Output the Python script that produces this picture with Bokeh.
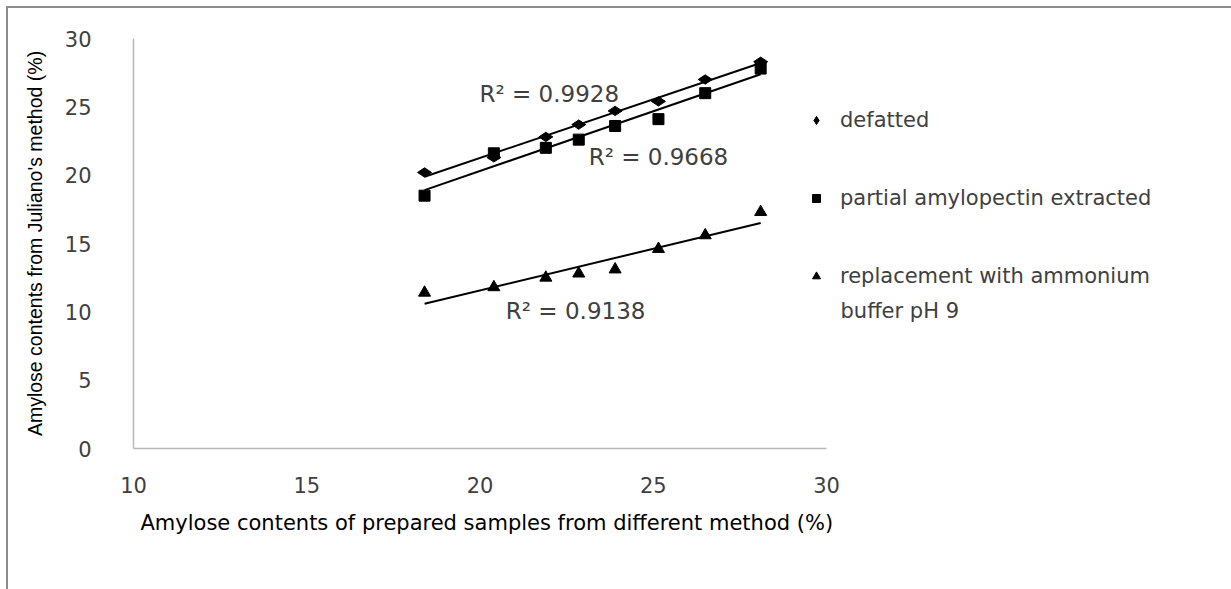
import numpy as np
from bokeh.plotting import figure
from bokeh.models import Range1d, FixedTicker, Legend, LegendItem, Label, Title
from bokeh.embed import file_html
from bokeh.resources import INLINE

# ---- data ----
x_method = [18.4, 20.4, 21.9, 22.85, 23.9, 25.15, 26.5, 28.1]
defatted = [20.2, 21.3, 22.8, 23.7, 24.7, 25.4, 27.0, 28.3]
partial = [18.5, 21.6, 22.0, 22.6, 23.6, 24.1, 26.0, 27.8]
ammonium = [11.4, 11.8, 12.5, 12.8, 13.1, 14.6, 15.6, 17.3]
series_names = ["defatted", "partial amylopectin extracted",
                "replacement with ammonium", "buffer pH 9"]
r2_texts = ["R\u00b2 = 0.9928", "R\u00b2 = 0.9668", "R\u00b2 = 0.9138"]
x_ticks = [10, 15, 20, 25, 30]
y_ticks = [0, 5, 10, 15, 20, 25, 30]

TXT = "#404040"
FONT = "DejaVu Sans"

FRAME_W = 1098           # frame runs to the right edge so the legend is not clipped
AX_W = 693               # pixel length of the 10..30 x axis
x_end = 10 + 20 * FRAME_W / AX_W

p = figure(frame_width=FRAME_W, frame_height=410,
           min_border_left=125, min_border_top=30,
           min_border_right=0, min_border_bottom=141,
           x_range=Range1d(10, x_end), y_range=Range1d(0, 30),
           output_backend="svg", toolbar_location=None)
p.styles = {"margin-left": "6px", "margin-top": "6px",
            "border-top": "2px solid #8c8c8c", "border-left": "2px solid #8c8c8c"}
p.outline_line_color = None
p.xgrid.visible = False
p.ygrid.visible = False

for ax in (p.xaxis[0], p.yaxis[0]):
    ax.axis_line_color = "#b8b8b8"
    ax.axis_line_width = 1.5
    ax.major_tick_line_color = None
    ax.minor_tick_line_color = None
    ax.major_tick_out = 0
    ax.major_tick_in = 0
    ax.minor_tick_out = 0
    ax.major_label_text_font = FONT
    ax.major_label_text_font_size = "21px"
    ax.major_label_text_color = TXT

p.xaxis.ticker = FixedTicker(ticks=x_ticks)
p.yaxis.ticker = FixedTicker(ticks=y_ticks)
p.xaxis.bounds = (10, 30)
p.xaxis.major_label_standoff = 28
p.yaxis.major_label_standoff = 42

p.yaxis.axis_label = "Amylose contents from Juliano's method (%)"
p.yaxis.axis_label_text_font = "Liberation Sans"
p.yaxis.axis_label_text_font_size = "19.5px"
p.yaxis.axis_label_text_font_style = "normal"
p.yaxis.axis_label_text_color = "black"
p.yaxis.axis_label_standoff = 16

xt = Title(text="Amylose contents of prepared samples from different method (%)",
           align="left", offset=7, standoff=27, text_font=FONT, text_font_size="21px",
           text_font_style="normal", text_color="black")
p.add_layout(xt, "below")

# trendlines (least squares fits)
for ys in (defatted, partial, ammonium):
    m, b = np.polyfit(x_method, ys, 1)
    xe = [min(x_method), max(x_method)]
    p.line(xe, [m * v + b for v in xe], line_color="black", line_width=2)

r1 = p.scatter(x_method, defatted, marker="diamond", size=14, angle=np.pi / 2,
               fill_color="black", line_color="black")
r2 = p.scatter(x_method, partial, marker="square", size=11,
               fill_color="black", line_color="black")
r3 = p.scatter(x_method, ammonium, marker="triangle", size=12,
               fill_color="black", line_color="black")

legend = Legend(items=[LegendItem(label=series_names[0], renderers=[r1]),
                       LegendItem(label=series_names[1], renderers=[r2]),
                       LegendItem(label=series_names[2], renderers=[r3])],
                location=(673, 160), padding=0, margin=0, spacing=54,
                glyph_width=20, glyph_height=20, label_standoff=14,
                label_text_font=FONT, label_text_font_size="21px",
                label_text_color=TXT,
                background_fill_alpha=0, border_line_alpha=0)
p.add_layout(legend)

# second line of the third legend entry
p.add_layout(Label(x=707, y=138, x_units="screen", y_units="screen", text=series_names[3],
                   text_align="left", text_baseline="middle",
                   text_font=FONT, text_font_size="21px", text_color=TXT))

# R² annotations
r2_pos = [(22.0, 25.95), (25.15, 21.3), (22.76, 10.04)]
for t, (lx, ly) in zip(r2_texts, r2_pos):
    p.add_layout(Label(x=lx, y=ly, text=t, text_align="center", text_baseline="middle",
                       text_font=FONT, text_font_size="23px", text_color=TXT))

open("out.html", "w").write(file_html(p, INLINE))
